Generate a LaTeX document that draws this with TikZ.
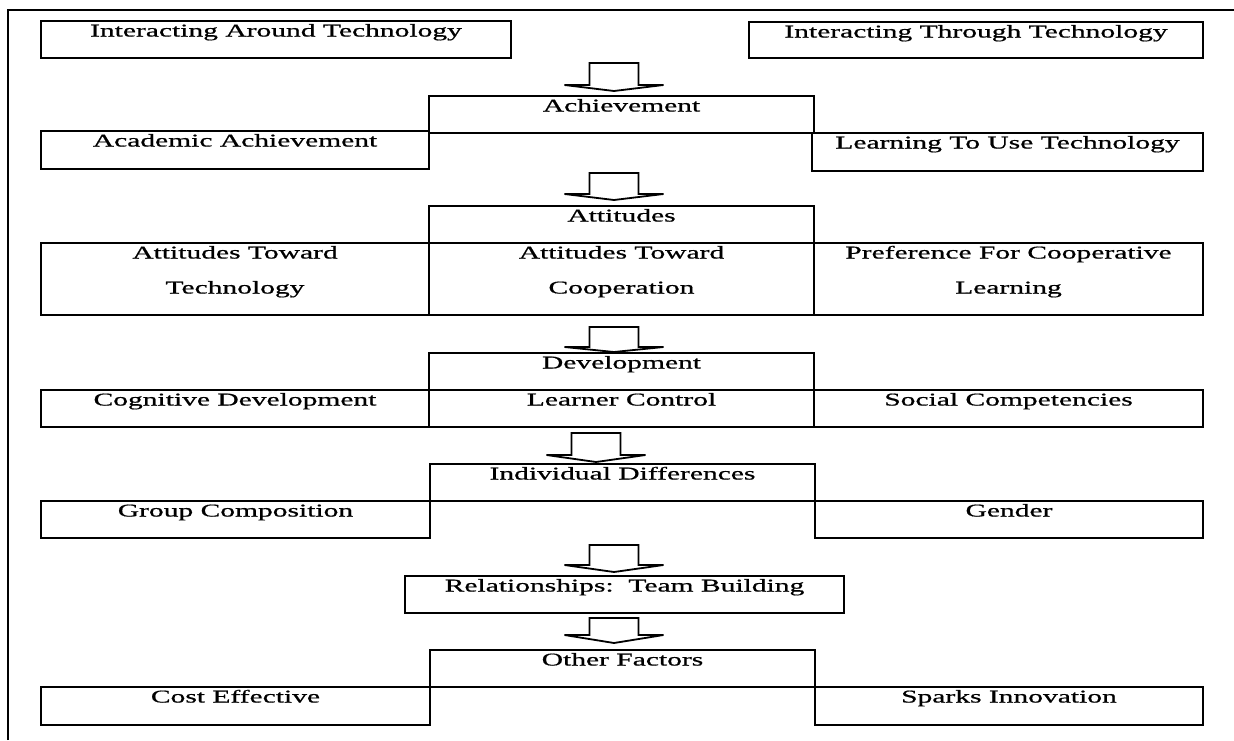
\documentclass[tikz,border=0pt]{standalone}
\usepackage{fontspec}
\setmainfont{Liberation Serif}[FakeStretch=1.64,FakeBold=0.8]
\usetikzlibrary{fit}

% rectangle panel given by its two corners
\newcommand{\panel}[5]{\node[box, fit={(#2,#3) (#4,#5)}] (#1) {};}
% wide down block arrow: centre x, top y, shoulder y, tip y
\newcommand{\blockarrow}[4]{%
  \draw[arrowline] (#1-24.5,#2) -- (#1+24.5,#2) -- (#1+24.5,#3) -- (#1+49.5,#3)
    -- (#1,#4) -- (#1-49.5,#3) -- (#1-24.5,#3) -- cycle;}

\begin{document}
\begin{tikzpicture}[x=1pt,y=-1pt,
  box/.style={draw=black, line width=1.8pt, inner sep=0pt, outer sep=0pt, rectangle},
  lbl/.style={anchor=base, inner sep=0pt, text=black, font=\fontsize{18}{21}\selectfont},
  arrowline/.style={draw=black, line width=1.8pt, line join=miter}]
\useasboundingbox (0,0) rectangle (1234,740);
\fill[white] (0,0) rectangle (1234,740);

% outer frame: top and left sides
\draw[line width=1.8pt] (8,740) -- (8,10) -- (1234,10);

% block arrows between the stages
\blockarrow{614}{63}{85}{91}
\blockarrow{614}{173}{194}{200}
\blockarrow{614}{327}{347}{352}
\blockarrow{596}{433}{455}{462}
\blockarrow{614}{545}{565}{572}
\blockarrow{614}{618}{635}{643}

% top row
\panel{iat}{41}{21}{511}{58}
\panel{itt}{749}{22}{1203}{58}
\node[lbl] (iat-t) at ([yshift=-15.5pt]iat.north) {Interacting Around Technology};
\node[lbl] (itt-t) at ([yshift=-15.5pt]itt.north) {Interacting Through Technology};

% achievement
\panel{achv}{429}{96}{814}{133}
\panel{acad}{41}{131}{429}{169}
\panel{learn}{812}{133}{1203}{171}
\node[lbl] (achv-t) at ([yshift=-15.5pt]achv.north) {Achievement};
\node[lbl] (acad-t) at ([yshift=-15.5pt]acad.north) {Academic Achievement};
\node[lbl] (learn-t) at ([yshift=-15.5pt]learn.north) {Learning To Use Technology};

% attitudes
\panel{att}{429}{206}{814}{243}
\panel{atttech}{41}{243}{429}{315}
\panel{attcoop}{429}{243}{814}{315}
\panel{pref}{814}{243}{1203}{315}
\node[lbl] (att-t) at ([yshift=-15.5pt]att.north) {Attitudes};
\node[lbl] (atttech-a) at ([yshift=-15.5pt]atttech.north) {Attitudes Toward};
\node[lbl] (atttech-b) at ([yshift=-50.5pt]atttech.north) {Technology};
\node[lbl] (attcoop-a) at ([yshift=-15.5pt]attcoop.north) {Attitudes Toward};
\node[lbl] (attcoop-b) at ([yshift=-50.5pt]attcoop.north) {Cooperation};
\node[lbl] (pref-a) at ([yshift=-15.5pt]pref.north) {Preference For Cooperative};
\node[lbl] (pref-b) at ([yshift=-50.5pt]pref.north) {Learning};

% development
\panel{dev}{429}{353}{814}{390}
\panel{cog}{41}{390}{429}{427}
\panel{lc}{429}{390}{814}{427}
\panel{soc}{814}{390}{1203}{427}
\node[lbl] (dev-t) at ([yshift=-15.5pt]dev.north) {Development};
\node[lbl] (cog-t) at ([yshift=-15.5pt]cog.north) {Cognitive Development};
\node[lbl] (lc-t) at ([yshift=-15.5pt]lc.north) {Learner Control};
\node[lbl] (soc-t) at ([yshift=-15.5pt]soc.north) {Social Competencies};

% individual differences
\panel{ind}{430}{464}{815}{501}
\panel{grp}{41}{501}{430}{538}
\panel{gen}{815}{501}{1203}{538}
\node[lbl] (ind-t) at ([yshift=-15.5pt]ind.north) {Individual Differences};
\node[lbl] (grp-t) at ([yshift=-15.5pt]grp.north) {Group Composition};
\node[lbl] (gen-t) at ([yshift=-15.5pt]gen.north) {Gender};

% relationships
\panel{rel}{405}{576}{844}{613}
\node[lbl] (rel-t) at ([yshift=-15.5pt]rel.north) {Relationships:\ \ Team Building};

% other factors
\panel{oth}{430}{650}{815}{687}
\panel{cost}{41}{687}{430}{725}
\panel{spark}{815}{687}{1203}{725}
\node[lbl] (oth-t) at ([yshift=-15.5pt]oth.north) {Other Factors};
\node[lbl] (cost-t) at ([yshift=-15.5pt]cost.north) {Cost Effective};
\node[lbl] (spark-t) at ([yshift=-15.5pt]spark.north) {Sparks Innovation};
\end{tikzpicture}
\end{document}
